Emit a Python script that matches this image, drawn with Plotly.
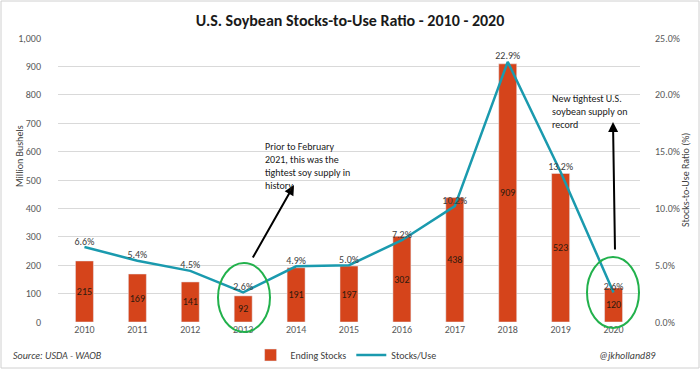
import plotly.graph_objects as go

years = [2010, 2011, 2012, 2013, 2014, 2015, 2016, 2017, 2018, 2019, 2020]
ending_stocks = [215, 169, 141, 92, 191, 197, 302, 438, 909, 523, 120]
stocks_use = [6.6, 5.4, 4.5, 2.6, 4.9, 5.0, 7.2, 10.2, 22.9, 13.2, 2.6]

FONT = "Carlito, Lato, 'Open Sans', sans-serif"
W, H = 700, 369
ML, MR, MT, MB = 58, 60, 38, 47
PW, PH = W - ML - MR, H - MT - MB

def px(x):
    return (x - ML) / PW

def py(y):
    return (H - MB - y) / PH

fig = go.Figure()
fig.add_trace(go.Bar(
    x=years, y=ending_stocks, name="Ending Stocks",
    marker=dict(color="#D5441B"),
    text=[str(v) for v in ending_stocks], textposition="inside",
    insidetextanchor="middle", textangle=0, constraintext="none",
    textfont=dict(color="#2e1a0e", size=10, family=FONT),
    width=0.34,
))
fig.add_trace(go.Scatter(
    x=years, y=stocks_use, name="Stocks/Use", yaxis="y2",
    mode="lines+text", line=dict(color="#1A9AAE", width=2.5),
    text=[f"{v:.1f}%" for v in stocks_use], textposition="top center",
    textfont=dict(color="#404040", size=10, family=FONT),
    cliponaxis=False,
))

shapes = [
    dict(type="rect", xref="paper", yref="paper",
         x0=px(1), x1=px(W - 1), y0=py(H - 1), y1=py(1),
         line=dict(color="#d0d0d0", width=1), layer="below"),
    dict(type="circle", xref="paper", yref="paper",
         x0=px(218), x1=px(270), y0=py(332), y1=py(263),
         line=dict(color="#22B14C", width=2)),
    dict(type="circle", xref="paper", yref="paper",
         x0=px(587), x1=px(639), y0=py(328), y1=py(257),
         line=dict(color="#22B14C", width=2)),
]

annotations = [
    dict(xref="paper", yref="paper", x=px(294), y=py(185),
         ax=252 - 294, ay=259 - 185, showarrow=True, arrowhead=2,
         arrowsize=1, arrowwidth=2, arrowcolor="#000000", text=""),
    dict(xref="paper", yref="paper", x=px(613), y=py(122),
         ax=615 - 613, ay=251 - 122, showarrow=True, arrowhead=2,
         arrowsize=1, arrowwidth=2, arrowcolor="#000000", text=""),
    dict(xref="paper", yref="paper", x=px(263), y=py(138), xanchor="left",
         yanchor="top", align="left", showarrow=False,
         text="Prior to February<br>2021, this was the<br>tightest soy supply in<br>history",
         font=dict(size=10, color="#202020", family=FONT)),
    dict(xref="paper", yref="paper", x=px(550), y=py(90), xanchor="left",
         yanchor="top", align="left", showarrow=False,
         text="New tightest U.S.<br>soybean supply on<br>record",
         font=dict(size=10, color="#202020", family=FONT)),
    dict(xref="paper", yref="paper", x=px(11), y=py(355), xanchor="left",
         yanchor="middle", showarrow=False,
         text="<i>Source: USDA - WAOB</i>",
         font=dict(size=10, color="#404040", family=FONT)),
    dict(xref="paper", yref="paper", x=px(658), y=py(355), xanchor="right",
         yanchor="middle", showarrow=False,
         text="<i>@jkholland89</i>",
         font=dict(size=10, color="#404040", family=FONT)),
    dict(xref="paper", yref="paper", x=px(19), y=py(156), xanchor="center",
         yanchor="middle", showarrow=False, textangle=-90,
         text="Million Bushels",
         font=dict(size=10, color="#404040", family=FONT)),
    dict(xref="paper", yref="paper", x=px(685), y=py(180), xanchor="center",
         yanchor="middle", showarrow=False, textangle=-90,
         text="Stocks-to-Use Ratio (%)",
         font=dict(size=10, color="#404040", family=FONT)),
]

fig.update_layout(
    width=W, height=H,
    margin=dict(l=ML, r=MR, t=MT, b=MB, autoexpand=False),
    paper_bgcolor="white", plot_bgcolor="white",
    font=dict(family=FONT, size=10, color="#595959"),
    title=dict(text="<b>U.S. Soybean Stocks-to-Use Ratio - 2010 - 2020</b>",
               x=0.5, xanchor="center", y=1 - 20 / H, yanchor="middle",
               font=dict(size=16, color="#1a1a1a", family=FONT)),
    xaxis=dict(tickmode="array", tickvals=years, ticktext=[str(y) for y in years],
               range=[2009.5, 2020.5], showgrid=False, zeroline=False,
               showline=False, ticks="", automargin=False,
               tickfont=dict(size=10, color="#595959")),
    yaxis=dict(range=[0, 1000], dtick=100, tickformat=",d", automargin=False,
               showgrid=True, gridcolor="#d9d9d9", gridwidth=1, zeroline=False,
               showline=False, ticks="", ticklabelstandoff=16),
    yaxis2=dict(range=[0, 25], dtick=5, overlaying="y", side="right",
                ticksuffix="%", tickformat=".1f", showgrid=False, zeroline=False,
                showline=False, ticks="", ticklabelstandoff=14, automargin=False),
    legend=dict(orientation="h", x=0.495, xanchor="center", y=py(355),
                yanchor="middle", font=dict(size=10, color="#404040"),
                itemwidth=30, bgcolor="rgba(0,0,0,0)"),
    shapes=shapes, annotations=annotations,
    bargap=0.66,
)

fig.write_html("out.html", config={"displayModeBar": False},
               post_script="document.body.style.margin='0';document.body.style.overflow='hidden';")
